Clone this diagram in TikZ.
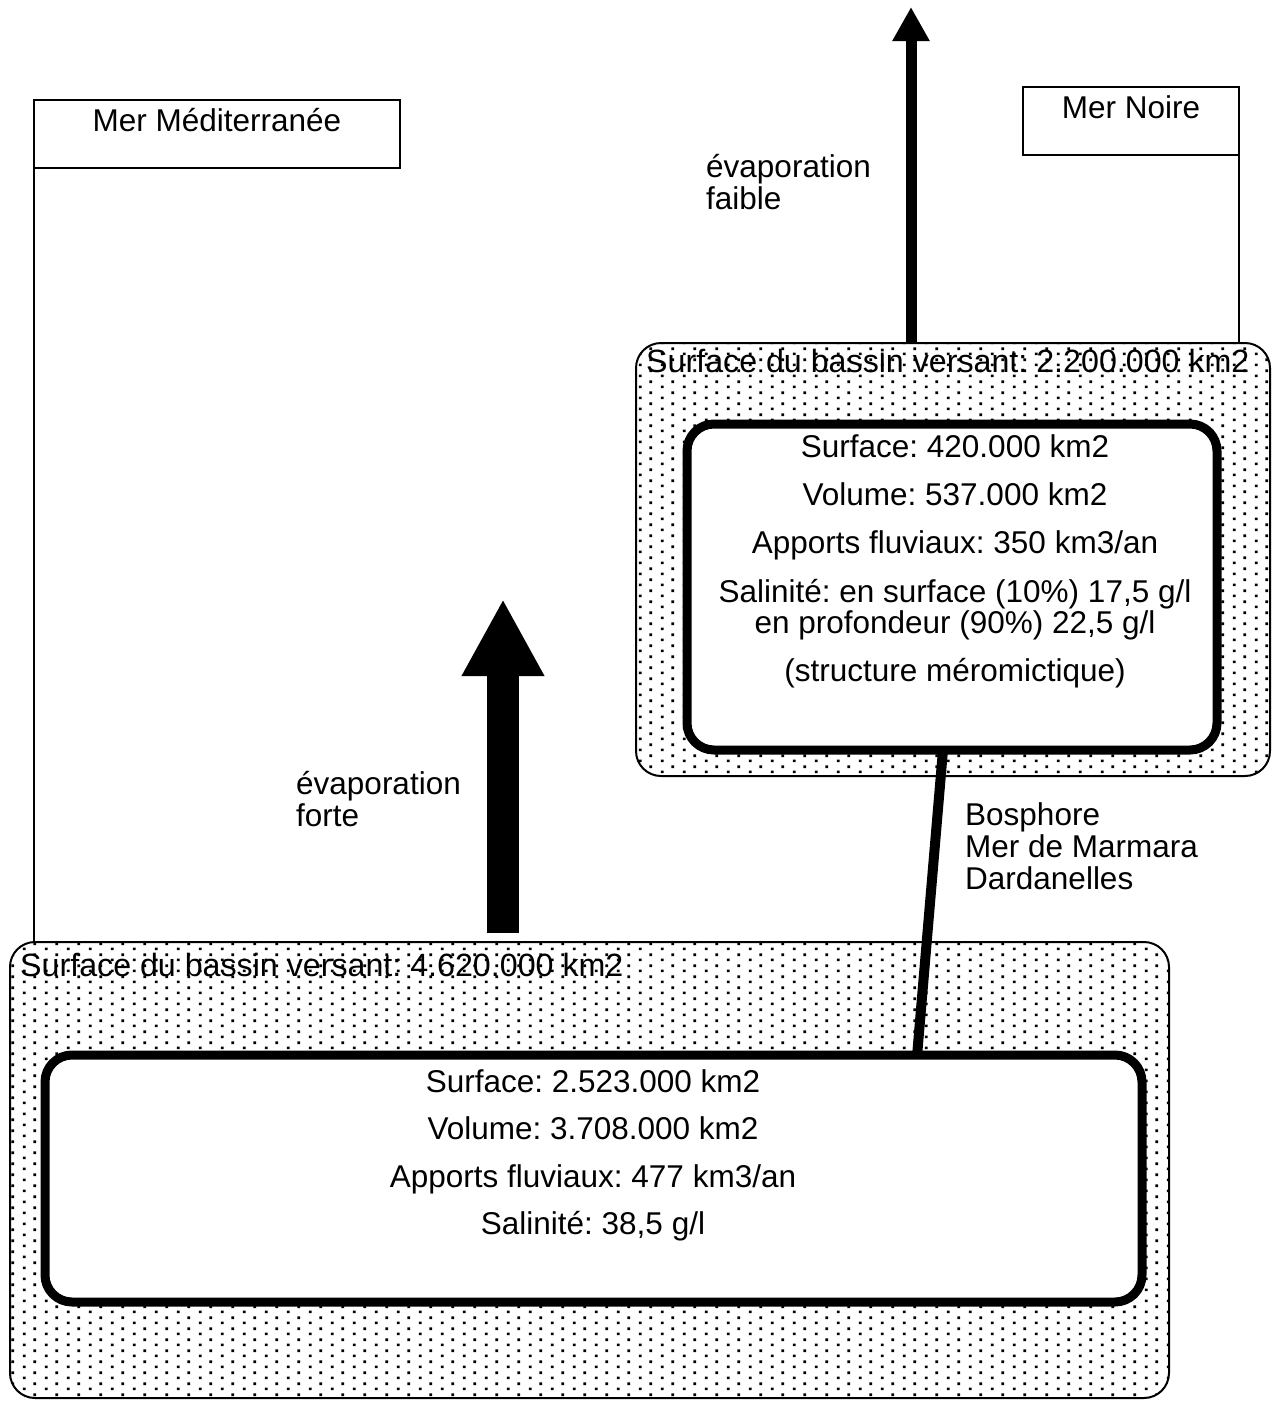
\documentclass[tikz,border=0pt]{standalone}
\usepackage{fontspec}
\setmainfont{Liberation Sans}
\usetikzlibrary{arrows.meta,calc,patterns}
\frenchspacing

% staggered dot screen for the catchment areas
\pgfdeclarepatternformonly{basindots}{\pgfqpoint{0pt}{0pt}}{\pgfqpoint{22pt}{11pt}}{\pgfqpoint{22pt}{11pt}}{%
  \pgfpathrectangle{\pgfqpoint{1pt}{1pt}}{\pgfqpoint{2.8pt}{2.8pt}}%
  \pgfpathrectangle{\pgfqpoint{12pt}{6.5pt}}{\pgfqpoint{2.8pt}{2.8pt}}%
  \pgfusepath{fill}}

\tikzset{
  thin line/.style={line width=2pt},
  seabox/.style={draw, thin line, inner sep=0pt, outer sep=0pt, anchor=north west},
  basin/.style={draw, thin line, rounded corners=25pt, pattern=basindots,
    inner sep=0pt, outer sep=0pt, anchor=north west},
  sea/.style={draw, line width=9pt, fill=white, rounded corners=27pt,
    inner sep=0pt, outer sep=0pt, anchor=north west},
  txt/.style={inner sep=0pt, font=\fontsize{31.5}{32}\selectfont},
  basinlbl/.style={txt, anchor=base west, font=\fontsize{32.2}{32}\selectfont},
  strait/.style={line width=10pt},
}

\begin{document}
\begin{tikzpicture}[x=1pt,y=-1pt]
\useasboundingbox (0,0) rectangle (1273,1401);

% catchment areas
\node[basin, minimum width=1159pt, minimum height=456pt] (medbasin) at (10,942) {};
\node[basin, minimum width=634pt, minimum height=433pt] (bsbasin) at (636,343) {};
\node[basinlbl] (medbasinlbl) at (20,976) {Surface du bassin versant: 4.620.000 km2};
\node[basinlbl] (bsbasinlbl) at (646,372) {Surface du bassin versant: 2.200.000 km2};

% seas
\node[sea, minimum width=1097pt, minimum height=247pt] (medin) at (45,1055) {};
\node[sea, minimum width=530pt, minimum height=326pt] (bsin) at (687,424) {};

\foreach \y/\t [count=\i] in {1092/{Surface: 2.523.000 km2},
    1139/{Volume: 3.708.000 km2},
    1187/{Apports fluviaux: 477 km3/an},
    1234/{Salinité: 38,5 g/l}}
  \node[txt, anchor=base] (medtxt\i) at (593,\y) {\t};

\foreach \y/\t [count=\i] in {457/{Surface: 420.000 km2},
    505/{Volume: 537.000 km2},
    553/{Apports fluviaux: 350 km3/an},
    602/{Salinité: en surface (10\%) 17,5 g/l},
    633/{en profondeur (90\%) 22,5 g/l},
    681/{(structure méromictique)}}
  \node[txt, anchor=base] (bstxt\i) at (955,\y) {\t};

% strait between the two seas (label anchored on its last line)
\draw[strait] ($(bsin.south west)!0.483!(bsin.south east)$)
  -- ($(medin.north west)!0.795!(medin.north east)$);
\node[txt, anchor=base west, align=left] (straitlbl) at (965,889)
  {Bosphore\\Mer de Marmara\\Dardanelles};

% sea name boxes and their boundaries
\node[seabox, minimum width=366pt, minimum height=68pt] (med) at (34,100) {};
\node[txt, anchor=base] (medname) at (med.north |- 0,131) {Mer Méditerranée};
\node[seabox, minimum width=216pt, minimum height=68pt] (noire) at (1023,87) {};
\node[txt, anchor=base] (noirename) at (noire.north |- 0,118) {Mer Noire};
\draw[thin line] (med.south west) -- (med.south west |- medbasin.north);
\draw[thin line] (noire.south east) -- (noire.south east |- bsbasin.north);

% evaporation
\coordinate (faibletip) at (911,7);
\draw[line width=11pt, -{Triangle[width=35pt,length=34pt]}]
  (bsbasin.north -| faibletip) -- (faibletip);
\node[txt, anchor=base west, align=left] (faiblelbl) at (706,209) {évaporation\\faible};

\coordinate (fortebase) at (503,933);
\coordinate (fortetip) at (503,599);
\draw[line width=32pt, -{Triangle[width=77pt,length=77pt]}] (fortebase) -- (fortetip);
\node[txt, anchor=base west, align=left] (fortelbl) at (296,826) {évaporation\\forte};
\end{tikzpicture}
\end{document}
